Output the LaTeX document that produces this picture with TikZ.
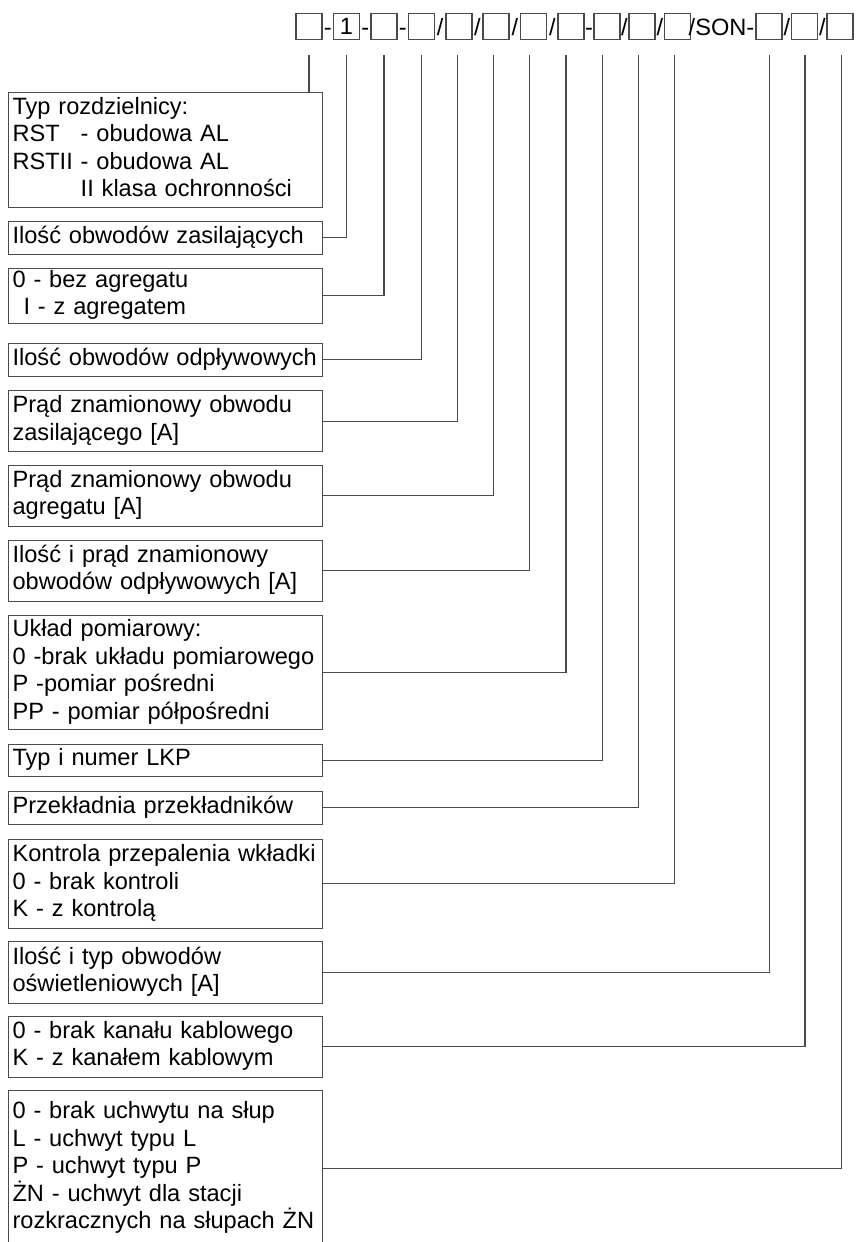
\documentclass[tikz,border=0pt]{standalone}
\usepackage{fontspec}
\setmainfont{Liberation Sans}
\definecolor{lijn}{HTML}{4A4A4A}
\tikzset{
    kod/.style={draw=lijn, line width=1.1pt, minimum width=26pt, minimum height=26pt, inner sep=0pt},
    znak/.style={inner sep=0pt, anchor=base},
    opis/.style={draw=lijn, line width=1.1pt, anchor=north west, align=left, text width=306pt,
        inner xsep=4pt, inner ysep=0pt, execute at begin node=\strut, execute at end node=\strut},
    polacz/.style={draw=lijn, line width=1.1pt}
}

\begin{document}
\begin{tikzpicture}[x=1pt, y=-1pt, font=\fontsize{23.6}{27.5}\selectfont]
    \clip (0,0) rectangle (857,1242);
    \node[kod] (k1) at (309,26.3) {};
    \node[znak] (s1) at (327.8,35) {-};
    \node[kod] (k2) at (346.5,26.3) {1};
    \node[znak] (s2) at (365.3,35) {-};
    \node[kod] (k3) at (384,26.3) {};
    \node[znak] (s3) at (402.8,35) {-};
    \node[kod] (k4) at (421.5,26.3) {};
    \node[znak] (s4) at (440.2,35) {/};
    \node[kod] (k5) at (459,26.3) {};
    \node[znak] (s5) at (477.5,35) {/};
    \node[kod] (k6) at (496,26.3) {};
    \node[znak] (s6) at (514.8,35) {/};
    \node[kod] (k7) at (533.5,26.3) {};
    \node[znak] (s7) at (552.3,35) {/};
    \node[kod] (k8) at (571,26.3) {};
    \node[znak] (s8) at (589,35) {-};
    \node[kod] (k9) at (607,26.3) {};
    \node[znak] (s9) at (624.5,35) {/};
    \node[kod] (k10) at (642,26.3) {};
    \node[znak] (s10) at (660,35) {/};
    \node[kod] (k11) at (677.5,26.3) {};
    \node[znak] (s11) at (721.5,35) {/SON-};
    \node[kod] (k12) at (769,26.3) {};
    \node[znak] (s12) at (786.8,35) {/};
    \node[kod] (k13) at (804.5,26.3) {};
    \node[znak] (s13) at (822.3,35) {/};
    \node[kod] (k14) at (840,26.3) {};

    \coordinate (p1) at (309,55);
    \coordinate (p2) at (346.5,55);
    \coordinate (p3) at (384,55);
    \coordinate (p4) at (421.5,55);
    \coordinate (p5) at (457.5,55);
    \coordinate (p6) at (493.5,55);
    \coordinate (p7) at (529.5,55);
    \coordinate (p8) at (566,55);
    \coordinate (p9) at (602.5,55);
    \coordinate (p10) at (638.5,55);
    \coordinate (p11) at (674.5,55);
    \coordinate (p12) at (769.5,55);
    \coordinate (p13) at (805,55);
    \coordinate (p14) at (841.5,55);

    \node[opis, minimum height=115pt] (typ) at (8,92) {Typ rozdzielnicy:\\RST\hphantom{II} - obudowa AL\\RSTII - obudowa AL\\\hphantom{RSTII\ }II klasa ochronności};
    \node[opis, minimum height=33.5pt] (zasil) at (8,220.5) {\mbox{Ilość obwodów zasilających}};
    \node[opis, minimum height=52.5pt] (agreg) at (8,267.5) {0 - bez agregatu\\\hspace*{11pt}I - z agregatem};
    \node[opis, minimum height=33.5pt] (odpl) at (8,342.5) {\mbox{Ilość obwodów odpływowych}};
    \node[opis, minimum height=61pt] (pradz) at (8,390) {Prąd znamionowy obwodu\\zasilającego [A]};
    \node[opis, minimum height=61pt] (prada) at (8,464.5) {Prąd znamionowy obwodu\\agregatu [A]};
    \node[opis, minimum height=61pt] (prado) at (8,539.5) {Ilość i prąd znamionowy\\\mbox{obwodów odpływowych [A]}};
    \node[opis, minimum height=114.5pt] (uklad) at (8,614.5) {Układ pomiarowy:\\\mbox{0 -brak układu pomiarowego}\\P -pomiar pośredni\\PP - pomiar półpośredni};
    \node[opis, minimum height=32.5pt] (lkp) at (8,743.5) {Typ i numer LKP};
    \node[opis, minimum height=32.5pt] (przekl) at (8,791) {\mbox{Przekładnia przekładników}};
    \node[opis, minimum height=89pt] (wkladka) at (8,838.5) {\mbox{Kontrola przepalenia wkładki}\\0 - brak kontroli\\K - z kontrolą};
    \node[opis, minimum height=61.5pt] (oswietl) at (8,941) {Ilość i typ obwodów\\oświetleniowych [A]};
    \node[opis, minimum height=61pt] (kanal) at (8,1015.5) {\mbox{0 - brak kanału kablowego}\\K - z kanałem kablowym};
    \node[opis, minimum height=155pt] (uchwyt) at (8,1090) {0 - brak uchwytu na słup\\L - uchwyt typu L\\P - uchwyt typu P\\ŻN - uchwyt dla stacji\\\mbox{rozkracznych na słupach ŻN}};

    \draw[polacz] (p1) -- (p1 |- typ.north);
    \draw[polacz] (zasil.east) -| (p2);
    \draw[polacz] (agreg.east) -| (p3);
    \draw[polacz] (odpl.east) -| (p4);
    \draw[polacz] (pradz.east) -| (p5);
    \draw[polacz] (prada.east) -| (p6);
    \draw[polacz] (prado.east) -| (p7);
    \draw[polacz] (uklad.east) -| (p8);
    \draw[polacz] (lkp.east) -| (p9);
    \draw[polacz] (przekl.east) -| (p10);
    \draw[polacz] (wkladka.east) -| (p11);
    \draw[polacz] (oswietl.east) -| (p12);
    \draw[polacz] (kanal.east) -| (p13);
    \draw[polacz] (uchwyt.east) -| (p14);
\end{tikzpicture}
\end{document}
